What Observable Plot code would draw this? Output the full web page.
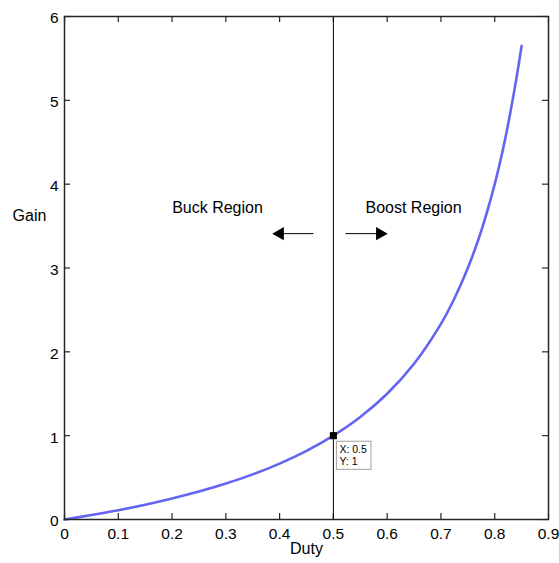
<!DOCTYPE html>
<html>
<head>
<meta charset="utf-8">
<script src="https://cdn.jsdelivr.net/npm/d3@7"></script>
<script src="https://cdn.jsdelivr.net/npm/@observablehq/plot@0.6"></script>
<style>
  html, body { margin: 0; padding: 0; background: #fff; }
  #chart svg { font-family: "Liberation Sans", Arial, Helvetica, sans-serif; }
</style>
</head>
<body>
<div id="chart"></div>
<script>
// Curve: duty vs gain
const duty = [0, 0.05, 0.1, 0.15, 0.2, 0.25, 0.3, 0.35, 0.4, 0.45, 0.5, 0.55, 0.6, 0.65, 0.7, 0.725, 0.75, 0.775, 0.8, 0.82, 0.84, 0.85];
const gain = [0, 0.053, 0.111, 0.176, 0.25, 0.333, 0.429, 0.538, 0.667, 0.818, 1.0, 1.222, 1.5, 1.857, 2.333, 2.636, 3.0, 3.444, 4.0, 4.556, 5.25, 5.65];

const xTicks = [0, 0.1, 0.2, 0.3, 0.4, 0.5, 0.6, 0.7, 0.8, 0.9];
const yTicks = [0, 1, 2, 3, 4, 5, 6];

// Data tip
const tipX = [0.5];
const tipY = [1];
const tipText = ["X: 0.5\nY: 1"];

// Annotations
const regionLabels = ["Buck Region", "Boost Region"];
const regionX = [0.2845, 0.649];
const regionY = [3.72, 3.72];
const arrowY = 3.41;
const shaftX1 = [0.463, 0.5225];
const shaftX2 = [0.405, 0.582];
const headX = [0.4007, 0.5866];
const headRotate = [-90, 90];

const curve = duty.map((d, i) => ({duty: d, gain: gain[i]}));
const regions = regionLabels.map((t, i) => ({t, x: regionX[i], y: regionY[i]}));
const arrows = shaftX1.map((x1, i) => ({x1, x2: shaftX2[i], hx: headX[i], rot: headRotate[i]}));
const tips = tipX.map((x, i) => ({x, y: tipY[i], t: tipText[i]}));

const W = 559, H = 563, ML = 64, MR = 11, MT = 16, MB = 44;
const FW = W - ML - MR, FH = H - MT - MB, TL = 6;
const axisColor = "#262626";

const plot = Plot.plot({
  width: W,
  height: H,
  marginLeft: ML,
  marginRight: MR,
  marginTop: MT,
  marginBottom: MB,
  style: {fontSize: "15px", fontFamily: "'Liberation Sans', Arial, Helvetica, sans-serif", color: "#000", background: "#fff"},
  x: {domain: [0, 0.9]},
  y: {domain: [0, 6]},
  marks: [
    Plot.axisX({anchor: "bottom", ticks: xTicks, tickSize: 0, tickPadding: 8, tickFormat: d => String(d), label: null, fontSize: 15.5, fill: "#000"}),
    Plot.axisY({anchor: "left", ticks: yTicks, tickSize: 0, tickPadding: 6, dy: 2, tickFormat: d => String(d), label: null, fontSize: 15.5, fill: "#000"}),
    // inward ticks on all four sides
    Plot.tickX(xTicks, {x: d => d, insetTop: FH - TL, stroke: axisColor, strokeWidth: 1.2}),
    Plot.tickX(xTicks, {x: d => d, insetBottom: FH - TL, stroke: axisColor, strokeWidth: 1.2}),
    Plot.tickY(yTicks, {y: d => d, insetRight: FW - TL, stroke: axisColor, strokeWidth: 1.2}),
    Plot.tickY(yTicks, {y: d => d, insetLeft: FW - TL, stroke: axisColor, strokeWidth: 1.2}),
    Plot.ruleX(tipX, {x: d => d, y1: 0, y2: 6, stroke: "#000", strokeWidth: 1}),
    Plot.line(curve, {x: "duty", y: "gain", stroke: "#6464f2", strokeWidth: 2.6, curve: "catmull-rom"}),
    Plot.link(arrows, {x1: "x1", x2: "x2", y1: arrowY, y2: arrowY, stroke: "#000", strokeWidth: 1}),
    Plot.dot(arrows, {x: "hx", y: arrowY, symbol: "triangle", rotate: "rot", r: 5, fill: "#000", stroke: null}),
    Plot.text(regions, {x: "x", y: "y", text: "t", fontSize: 16, fill: "#000", textAnchor: "middle"}),
    Plot.dot(tips, {x: "x", y: "y", symbol: "square", r: 4, fill: "#000", stroke: null}),
    Plot.text(tips, {x: "x", y: "y", text: "t", textAnchor: "start", lineAnchor: "top", dx: 6, dy: 9, fontSize: 10.5, lineHeight: 1.15, fill: "#000", ariaDescription: "datatip"}),
    Plot.text(["Gain"], {frameAnchor: "left", dx: -35, dy: -52, textAnchor: "middle", fontSize: 16, fill: "#000"}),
    Plot.text(["Duty"], {frameAnchor: "bottom", dy: 34, textAnchor: "middle", fontSize: 16, fill: "#000"}),
    Plot.frame({stroke: axisColor, strokeWidth: 1.5})
  ]
});

document.getElementById("chart").appendChild(plot);

// Box around the data tip text (inserted inside the mark's group so it shares its transform)
const tipGroup = plot.querySelector('g[aria-description="datatip"]') ||
  (() => { const g = plot.querySelectorAll('g[aria-label="text"]'); return g[g.length - 3]; })();
if (tipGroup) {
  const bb = tipGroup.getBBox();
  const rect = document.createElementNS("http://www.w3.org/2000/svg", "rect");
  rect.setAttribute("x", bb.x - 3);
  rect.setAttribute("y", bb.y - 2);
  rect.setAttribute("width", bb.width + 7);
  rect.setAttribute("height", bb.height + 4);
  rect.setAttribute("fill", "#fff");
  rect.setAttribute("stroke", "#a0a0a0");
  rect.setAttribute("stroke-width", "1");
  tipGroup.insertBefore(rect, tipGroup.firstChild);
}
</script>
</body>
</html>
